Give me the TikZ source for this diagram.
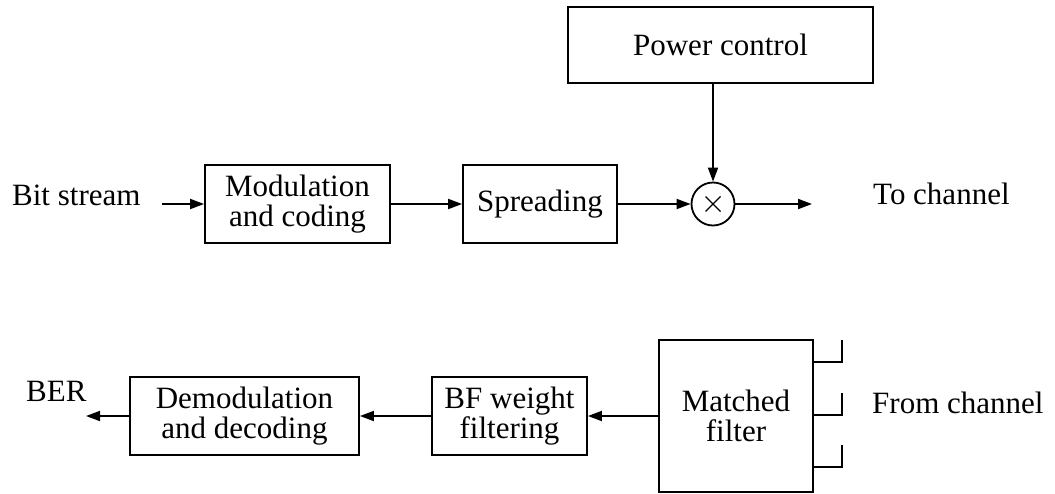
\documentclass[tikz,border=0pt]{standalone}
\usepackage{fontspec}
\setmainfont{Liberation Serif}
\usetikzlibrary{arrows.meta,calc}
\tikzset{
  blk/.style={draw, line width=1.8pt, inner sep=0pt, align=center,
    font=\fontsize{31}{30}\selectfont},
  lbl/.style={inner sep=0pt, anchor=base west, font=\fontsize{31}{30}\selectfont},
  conn/.style={line width=1.8pt, -{Triangle[length=14pt,width=10pt]}},
  wire/.style={line width=1.8pt},
}
\begin{document}
\begin{tikzpicture}[x=1pt,y=-1pt]
\useasboundingbox (0,0) rectangle (1055,493);
% top chain
\node[blk, minimum width=305pt, minimum height=76pt] (pc) at (720.5,45) {Power control};
\node[blk, minimum width=185pt, minimum height=78pt] (mod) at (297.5,204) {Modulation\\and coding};
\node[blk, minimum width=154pt, minimum height=78pt] (spr) at (540,204) {Spreading};
\node[draw, circle, line width=1.8pt, minimum size=43pt, inner sep=0pt] (mix) at (713,204) {};
\draw[line width=1.1pt] ($(mix.center)+(-7.5,-7.5)$) -- ($(mix.center)+(7.5,7.5)$)
  ($(mix.center)+(-7.5,7.5)$) -- ($(mix.center)+(7.5,-7.5)$);
\node[lbl] (bs) at (12,205) {Bit stream};
\node[lbl] (tc) at (873,204) {To channel};
\coordinate (bsin) at (162,204);
\coordinate (tcout) at (812,204);
\draw[conn] (bsin) -- (mod.west);
\draw[conn] (mod.east) -- (spr.west);
\draw[conn] (spr.east) -- (mix.west);
\draw[conn] (pc.south -| mix.north) -- (mix.north);
\draw[conn] (mix.east) -- (tcout);
% bottom chain
\node[blk, minimum width=154pt, minimum height=152pt] (mf) at (736,416) {Matched\\filter};
\node[blk, minimum width=155pt, minimum height=78pt] (bf) at (509.5,416) {BF weight\\filtering};
\node[blk, minimum width=229pt, minimum height=78pt] (dem) at (244.5,416) {Demodulation\\and decoding};
\node[lbl] (ber) at (26,401) {BER};
\node[lbl] (fc) at (872,413) {From channel};
\coordinate (berout) at (86,416);
\draw[conn] (mf.west) -- (bf.east);
\draw[conn] (bf.west) -- (dem.east);
\draw[conn] (dem.west) -- (berout);
% antenna inputs
\coordinate (a1) at (842,362);
\coordinate (a2) at (842,415);
\coordinate (a3) at (842,467);
\draw[wire] (mf.east |- a1) -- (a1) -- ++(0,-22);
\draw[wire] (mf.east |- a2) -- (a2) -- ++(0,-22);
\draw[wire] (mf.east |- a3) -- (a3) -- ++(0,-22);
\end{tikzpicture}
\end{document}
